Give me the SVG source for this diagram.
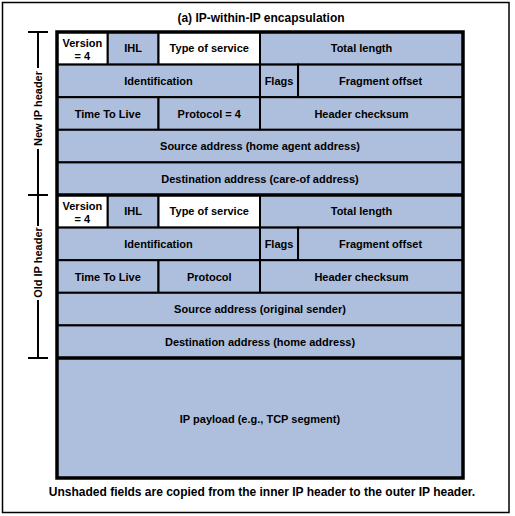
<svg xmlns="http://www.w3.org/2000/svg" width="515" height="516" viewBox="0 0 515 516">
<style>
.c{fill:#adbfdc;stroke:#000;stroke-width:2}
.w{fill:#fff;stroke:#000;stroke-width:2}
.t{font-family:"Liberation Sans",Arial,sans-serif;font-weight:bold;font-size:11px;text-anchor:middle;fill:#000}
.big{font-size:12px}
.br{stroke:#000;stroke-width:2;fill:none}
</style>
<rect x="0" y="0" width="515" height="516" fill="#fff"/>
<rect x="2.5" y="2.5" width="506.5" height="510" fill="none" stroke="#000" stroke-width="1.5"/>
<text id="title" class="t big" x="261" y="22">(a) IP-within-IP encapsulation</text>

<g id="new-header">
<g id="n-version"><rect class="w" x="57" y="32" width="50.75" height="32.6"/><text class="t" x="82.4" y="46.5">Version</text><text class="t" x="82.4" y="60">= 4</text></g>
<g id="n-ihl"><rect class="c" x="107.75" y="32" width="50.75" height="32.6"/><text class="t" x="133.1" y="52.3">IHL</text></g>
<g id="n-tos"><rect class="w" x="158.5" y="32" width="101.5" height="32.6"/><text class="t" x="209.25" y="52.3">Type of service</text></g>
<g id="n-len"><rect class="c" x="260" y="32" width="203" height="32.6"/><text class="t" x="361.5" y="52.3">Total length</text></g>
<g id="n-id"><rect class="c" x="57" y="64.6" width="203" height="32.6"/><text class="t" x="158.5" y="84.9">Identification</text></g>
<g id="n-flags"><rect class="c" x="260" y="64.6" width="38.06" height="32.6"/><text class="t" x="279" y="84.9">Flags</text></g>
<g id="n-frag"><rect class="c" x="298.06" y="64.6" width="164.94" height="32.6"/><text class="t" x="380.5" y="84.9">Fragment offset</text></g>
<g id="n-ttl"><rect class="c" x="57" y="97.2" width="101.5" height="32.6"/><text class="t" x="107.75" y="117.5">Time To Live</text></g>
<g id="n-proto"><rect class="c" x="158.5" y="97.2" width="101.5" height="32.6"/><text class="t" x="209.25" y="117.5">Protocol = 4</text></g>
<g id="n-csum"><rect class="c" x="260" y="97.2" width="203" height="32.6"/><text class="t" x="361.5" y="117.5">Header checksum</text></g>
<g id="n-src"><rect class="c" x="57" y="129.8" width="406" height="32.6"/><text class="t" x="260" y="150.1">Source address (home agent address)</text></g>
<g id="n-dst"><rect class="c" x="57" y="162.4" width="406" height="32.6"/><text class="t" x="260" y="182.7">Destination address (care-of address)</text></g>
</g>

<g id="old-header">
<g id="o-version"><rect class="w" x="57" y="195" width="50.75" height="32.6"/><text class="t" x="82.4" y="209.5">Version</text><text class="t" x="82.4" y="223">= 4</text></g>
<g id="o-ihl"><rect class="c" x="107.75" y="195" width="50.75" height="32.6"/><text class="t" x="133.1" y="215.3">IHL</text></g>
<g id="o-tos"><rect class="w" x="158.5" y="195" width="101.5" height="32.6"/><text class="t" x="209.25" y="215.3">Type of service</text></g>
<g id="o-len"><rect class="c" x="260" y="195" width="203" height="32.6"/><text class="t" x="361.5" y="215.3">Total length</text></g>
<g id="o-id"><rect class="c" x="57" y="227.6" width="203" height="32.6"/><text class="t" x="158.5" y="247.9">Identification</text></g>
<g id="o-flags"><rect class="c" x="260" y="227.6" width="38.06" height="32.6"/><text class="t" x="279" y="247.9">Flags</text></g>
<g id="o-frag"><rect class="c" x="298.06" y="227.6" width="164.94" height="32.6"/><text class="t" x="380.5" y="247.9">Fragment offset</text></g>
<g id="o-ttl"><rect class="c" x="57" y="260.2" width="101.5" height="32.6"/><text class="t" x="107.75" y="280.5">Time To Live</text></g>
<g id="o-proto"><rect class="c" x="158.5" y="260.2" width="101.5" height="32.6"/><text class="t" x="209.25" y="280.5">Protocol</text></g>
<g id="o-csum"><rect class="c" x="260" y="260.2" width="203" height="32.6"/><text class="t" x="361.5" y="280.5">Header checksum</text></g>
<g id="o-src"><rect class="c" x="57" y="292.8" width="406" height="32.6"/><text class="t" x="260" y="313.1">Source address (original sender)</text></g>
<g id="o-dst"><rect class="c" x="57" y="325.4" width="406" height="32.6"/><text class="t" x="260" y="345.7">Destination address (home address)</text></g>
</g>

<g id="payload"><rect class="c" x="57" y="358" width="406" height="120"/><text class="t" x="260" y="423">IP payload (e.g., TCP segment)</text></g>

<g id="frame-lines" fill="none" stroke="#000" stroke-width="3.5">
<rect x="57" y="32" width="406" height="446"/>
<line x1="57" y1="195" x2="463" y2="195"/>
<line x1="57" y1="358" x2="463" y2="358"/>
</g>

<g id="brackets">
<path class="br" d="M28 32H48M38 32V68M38 149V195M28 195H48M38 195V226M38 300V358M28 358H48"/>
<text class="t" transform="translate(42,108.5) rotate(-90)">New IP header</text>
<text class="t" transform="translate(42,262.5) rotate(-90)">Old IP header</text>
</g>

<text id="footer" class="t big" x="262" y="496">Unshaded fields are copied from the inner IP header to the outer IP header.</text>
</svg>
